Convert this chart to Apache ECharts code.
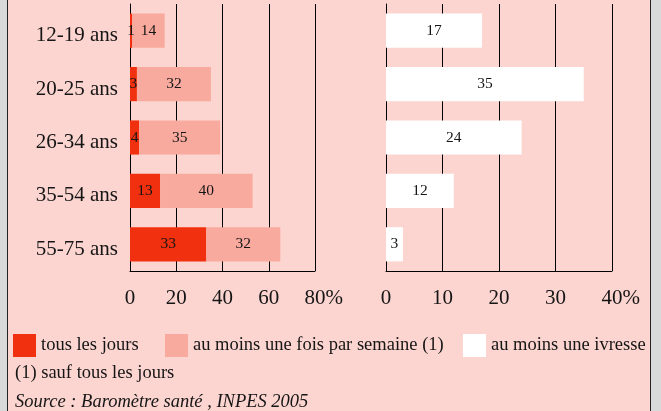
<!DOCTYPE html>
<html>
<head>
<meta charset="utf-8">
<script src="https://cdn.jsdelivr.net/npm/echarts@6/dist/echarts.min.js"></script>
<style>
  html, body { margin: 0; padding: 0; background: #d9d9d9; }
  #panel { position: absolute; left: 7px; top: 0; width: 642px; height: 411px; background: #fcd5d0; border-left: 1px solid #222; border-right: 1px solid #222; }
  #chart { position: absolute; left: 0; top: 0; width: 661px; height: 411px; }
</style>
</head>
<body>
<div id="panel"></div>
<div id="chart"></div>
<script>
// categories and values
const categories = ['12-19 ans', '20-25 ans', '26-34 ans', '35-54 ans', '55-75 ans']
const dailyValues = [1, 3, 4, 13, 33]
const weeklyValues = [14, 32, 35, 40, 32]
const drunkValues = [17, 35, 24, 12, 3]
const leftTicks = [0, 20, 40, 60, 80]
const rightTicks = [0, 10, 20, 30, 40]

const serif = '"Liberation Serif", "Times New Roman", serif'
const ink = '#151515'

function valueAxis(grid, ticks) {
  const max = ticks[ticks.length - 1]
  return {
    gridIndex: grid,
    type: 'value',
    min: ticks[0],
    max: max,
    interval: ticks[1] - ticks[0],
    axisLine: { show: true, lineStyle: { color: '#000', width: 1 } },
    axisTick: { show: false },
    splitLine: { show: true, lineStyle: { color: '#000', width: 1 } },
    axisLabel: {
      margin: 17,
      fontSize: 21,
      fontFamily: serif,
      color: ink,
      // keep the number centred on its tick, the % hangs to the right
      formatter: v => (v === max ? '{s|%}' + v + '%' : String(v)),
      rich: { s: { fontSize: 21, fontFamily: serif, color: 'rgba(0,0,0,0)' } }
    }
  }
}

function catAxis(grid, showLabels) {
  return {
    gridIndex: grid,
    type: 'category',
    data: categories,
    inverse: true,
    axisLine: { show: true, lineStyle: { color: '#000', width: 1 } },
    axisTick: { show: false },
    axisLabel: {
      show: showLabels,
      margin: 12,
      // labels sit a little below the bar centre in the original
      formatter: v => '{a|' + v + '}',
      rich: { a: { fontSize: 21, fontFamily: serif, color: ink, padding: [10, 0, 0, 0] } }
    }
  }
}

const barLabel = {
  show: true,
  position: 'inside',
  fontSize: 15.5,
  fontFamily: serif,
  color: ink
}

const legendText = { fontSize: 18.5, fontFamily: serif, color: ink }

const chart = echarts.init(document.getElementById('chart'))
chart.setOption({
  backgroundColor: 'transparent',
  animation: false,
  grid: [
    { left: 130, top: 4, width: 185, height: 267 },
    { left: 386, top: 4, width: 226, height: 267 }
  ],
  xAxis: [valueAxis(0, leftTicks), valueAxis(1, rightTicks)],
  yAxis: [catAxis(0, true), catAxis(1, false)],
  legend: [
    { left: 13, top: 334, padding: 0, itemWidth: 23, itemHeight: 23, icon: 'rect', data: ['tous les jours'], textStyle: legendText },
    { left: 165, top: 334, padding: 0, itemWidth: 23, itemHeight: 23, icon: 'rect', data: ['au moins une fois par semaine (1)'], textStyle: legendText },
    { left: 463, top: 334, padding: 0, itemWidth: 23, itemHeight: 23, icon: 'rect', data: ['au moins une ivresse'], textStyle: legendText }
  ],
  title: [
    { text: '(1) sauf tous les jours', left: 15, top: 364, padding: 0,
      textStyle: { fontSize: 18.5, fontFamily: serif, fontWeight: 'normal', color: ink } },
    { text: 'Source : Baromètre santé , INPES 2005', left: 15, top: 393, padding: 0,
      textStyle: { fontSize: 18.5, fontFamily: serif, fontWeight: 'normal', fontStyle: 'italic', color: ink } }
  ],
  series: [
    {
      name: 'tous les jours',
      type: 'bar',
      xAxisIndex: 0,
      yAxisIndex: 0,
      stack: 'conso',
      barCategoryGap: '36%',
      itemStyle: { color: '#f0300e' },
      label: barLabel,
      data: dailyValues
    },
    {
      name: 'au moins une fois par semaine (1)',
      type: 'bar',
      xAxisIndex: 0,
      yAxisIndex: 0,
      stack: 'conso',
      barCategoryGap: '36%',
      itemStyle: { color: '#f8aa9e' },
      label: barLabel,
      data: weeklyValues
    },
    {
      name: 'au moins une ivresse',
      type: 'bar',
      xAxisIndex: 1,
      yAxisIndex: 1,
      barCategoryGap: '36%',
      itemStyle: { color: '#ffffff' },
      label: barLabel,
      data: drunkValues
    }
  ]
})
</script>
</body>
</html>
